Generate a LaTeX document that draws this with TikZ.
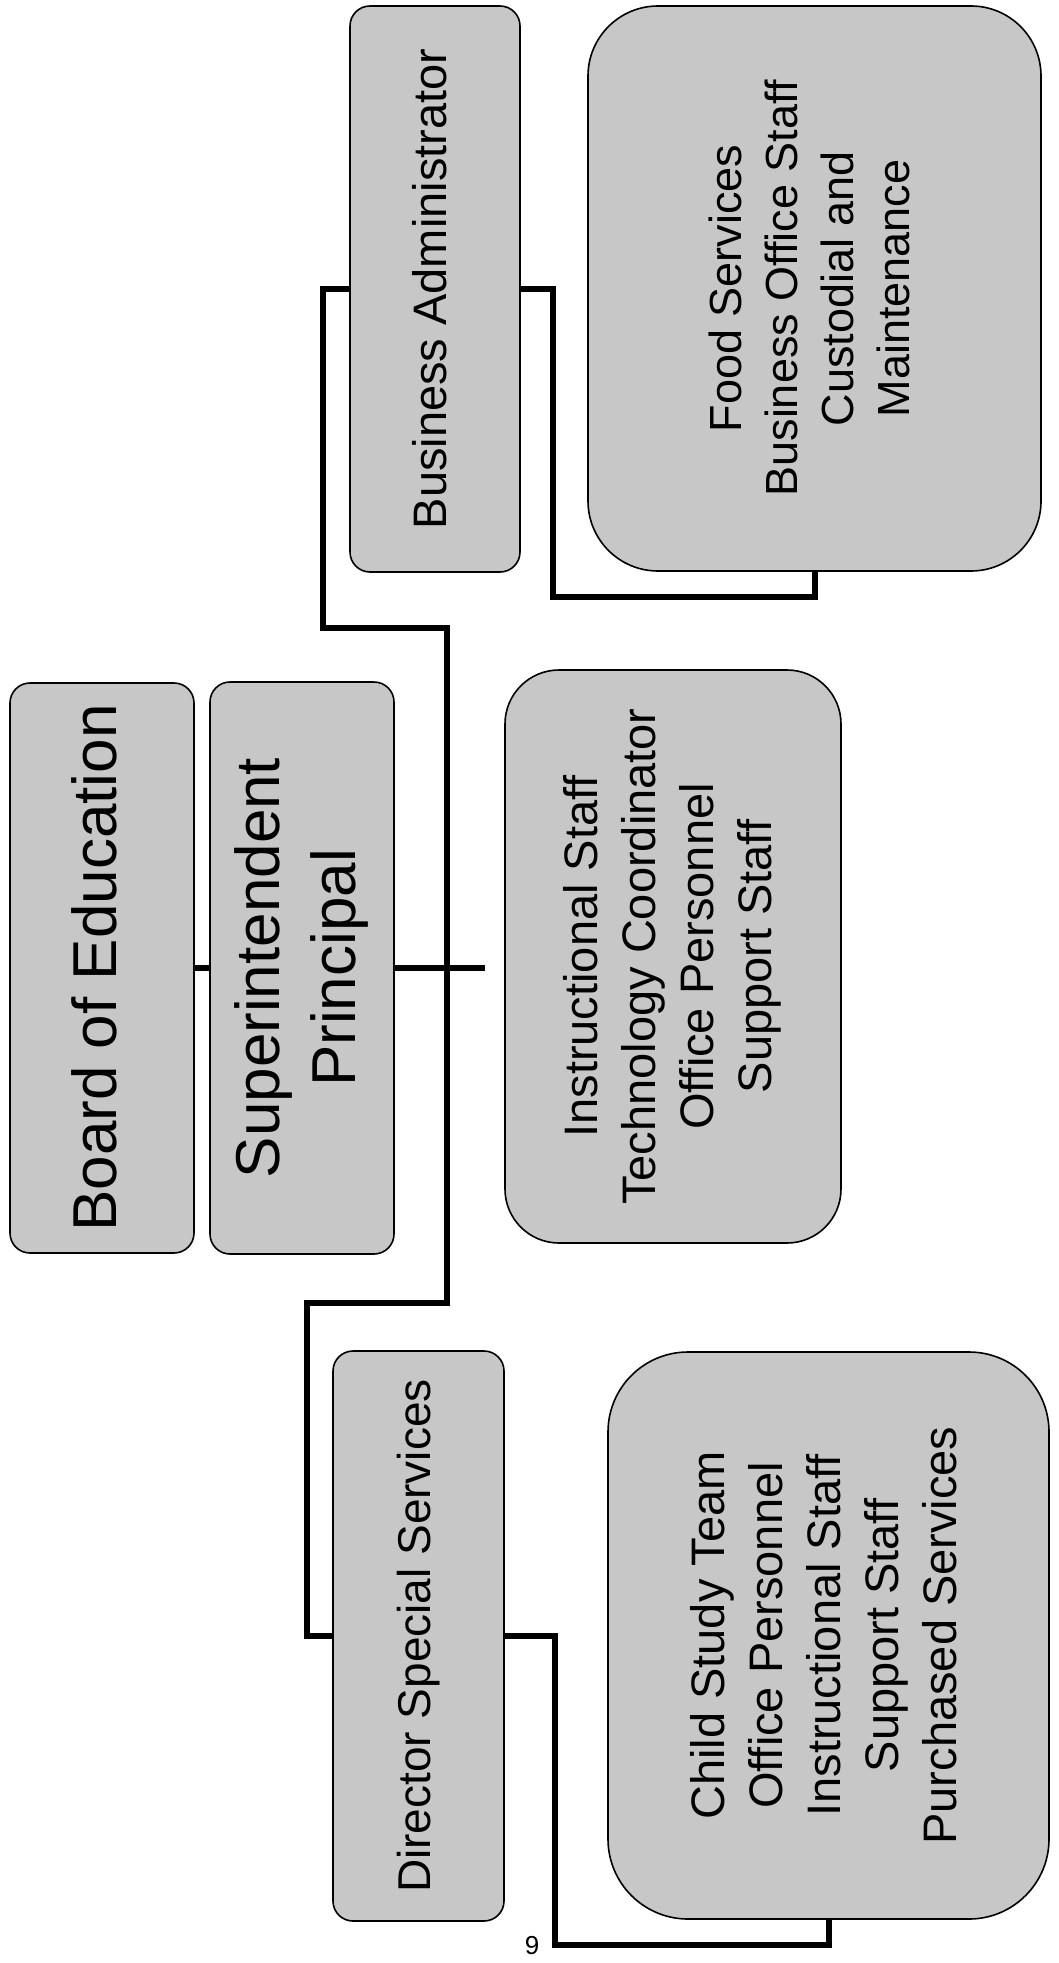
\documentclass[tikz,border=0pt]{standalone}
\usepackage{fontspec}
\setmainfont{Liberation Sans}

% text turned to read from bottom to top
\newcommand{\vlabel}[1]{\rotatebox{90}{\begin{tabular}{@{}c@{}}#1\end{tabular}}}

\tikzset{
  box/.style={draw=black, line width=0.8pt, fill=black!22, rounded corners=10pt, inner sep=0pt},
  listbox/.style={box, font=\fontsize{23.5}{29}\selectfont},
  wire/.style={line width=3pt},
}

\begin{document}
\begin{tikzpicture}[x=0.5pt, y=-0.5pt]
  \useasboundingbox (0,0) rectangle (1059,1963);

  % Board and superintendent
  \node[box, minimum width=92pt, minimum height=285pt] (board) at (102,968)
    {\fontsize{31}{36}\selectfont\vlabel{Board of Education}};
  \node[box, minimum width=92pt, minimum height=286pt] (supt) at (302,968)
    {\fontsize{31}{38}\selectfont\vlabel{Superintendent\\Principal}};

  % Business side
  \node[box, minimum width=85pt, minimum height=283pt] (badm) at (435,289)
    {\fontsize{23.5}{29}\selectfont\vlabel{Business Administrator}};
  \node[listbox, font=\fontsize{22.5}{28}\selectfont, rounded corners=35pt, minimum width=226.5pt, minimum height=282.5pt] (food) at (814.5,288.5)
    {\vlabel{Food Services\\Business Office Staff\\Custodial and\\Maintenance}};

  % Building staff
  \node[listbox, rounded corners=27pt, minimum width=168pt, minimum height=286.5pt] (instr) at (673,956.5)
    {\vlabel{Instructional Staff\\Technology Coordinator\\Office Personnel\\Support Staff}};

  % Special services side
  \node[box, minimum width=85.5pt, minimum height=285pt] (dss) at (418.5,1636)
    {\fontsize{23}{29}\selectfont\vlabel{Director Special Services}};
  \node[listbox, rounded corners=40pt, minimum width=220.5pt, minimum height=283.5pt] (child) at (828.5,1635.5)
    {\vlabel{Child Study Team\\Office Personnel\\Instructional Staff\\Support Staff\\Purchased Services}};

  % page number
  \node[font=\fontsize{13}{15}\selectfont] (pagenum) at (532,1946) {9};

  % connectors
  \coordinate (stub) at (485,968);
  \coordinate (spinetop) at (447,628);
  \coordinate (spinebot) at (447,1303);
  \draw[wire] (board.east) -- (supt.west);
  \draw[wire] (supt.east) -- (stub);
  \draw[wire] (badm.west) -| (323,628) -- (spinetop) -- (spinebot) -| (307,1636) -- (dss.west);
  \draw[wire] (badm.east) -| (553,597) -| (food.south);
  \draw[wire] (dss.east) -| (555,1945) -| (child.south);
\end{tikzpicture}
\end{document}
